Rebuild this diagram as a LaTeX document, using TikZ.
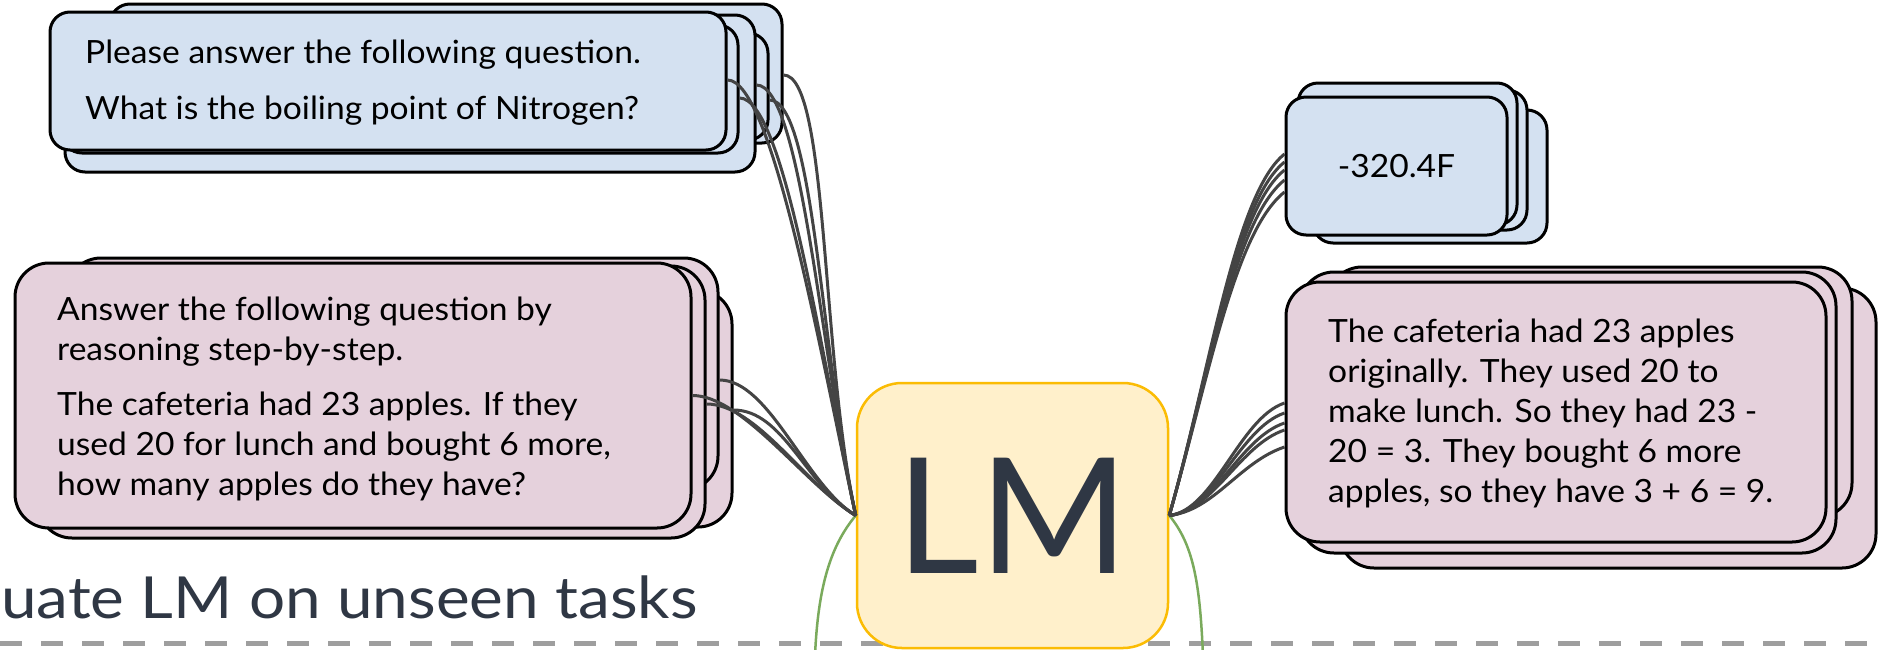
\documentclass[tikz,border=0pt]{standalone}
\usepackage{fontspec}
\setmainfont{Lato}
\newfontfamily\lmfont{Lato}
\newfontfamily\boxfont{Lato}[FakeStretch=1.05]
\newfontfamily\capfont{Lato}[FakeStretch=1.1]
\definecolor{cardblue}{HTML}{D4E1F1}
\definecolor{cardpink}{HTML}{E5D1DC}
\definecolor{lmfill}{HTML}{FFF0CB}
\definecolor{lmyellow}{HTML}{FBBC04}
\definecolor{textdark}{HTML}{2F3744}
\definecolor{conncol}{HTML}{444444}
\definecolor{greencol}{HTML}{7AAA5C}
\definecolor{dashgray}{HTML}{9E9E9E}
\pgfdeclarelayer{background}
\pgfsetlayers{background,main}
\tikzset{
  card/.style={draw=black, line width=3pt, inner sep=0pt},
  bluecard/.style={card, fill=cardblue, rounded corners=20pt},
  pinkcard/.style={card, fill=cardpink, rounded corners=34pt},
  boxtext/.style={inner sep=0pt, align=left, text=black, font=\boxfont\fontsize{32}{40}\selectfont},
  conn/.style={draw=conncol, line width=3pt},
  greenline/.style={draw=greencol, line width=2.5pt},
  dashline/.style={draw=dashgray, line width=5pt, dash pattern=on 22pt off 19pt}
}
\begin{document}
\begin{tikzpicture}[x=1pt,y=-1pt]
\useasboundingbox (0,0) rectangle (1883,649);
\begin{pgfonlayer}{background}
\fill[white] (0,0) rectangle (1883,649);
\coordinate (dl) at (0,643);
\coordinate (dr) at (1883,643);
\draw[dashline] (dl) -- (dr);
\end{pgfonlayer}

% LM node
\node[draw=lmyellow, fill=lmfill, line width=2.5pt, rounded corners=45pt,
      minimum width=311pt, minimum height=265pt, inner sep=0pt, text=textdark,
      font=\lmfont\fontsize{161}{161}\selectfont] (lm) at (1012.5,515.5) {LM};

% green lines
\coordinate (gl) at (815,656);
\coordinate (gr) at (1203,656);
\draw[greenline] (lm.west) .. controls +(-25,30) and +(3,-70) .. (gl);
\draw[greenline] (lm.east) .. controls +(25,30) and +(-3,-70) .. (gr);

% caption
\node[anchor=base west, inner sep=0pt, text=textdark, font=\capfont\fontsize{58}{60}\selectfont] (caption) at (1,618) {uate LM on unseen tasks};

% top-left blue stack
\node[bluecard, minimum width=672pt, minimum height=139pt] (tE) at (446,73.5) {};
\node[bluecard, minimum width=673pt, minimum height=107pt] (tD) at (431.5,86.5) {};
\node[bluecard, minimum width=690pt, minimum height=157pt] (tC) at (410,93.5) {};
\node[bluecard, minimum width=676pt, minimum height=128pt] (tB) at (400,89) {};
\node[bluecard, minimum width=676pt, minimum height=138pt] (tA) at (388,81) {};
\node[boxtext, anchor=north west] (tAtext) at (85,35) {\rule{0pt}{28pt}Please answer the following question.\\[16pt]What is the boiling point of Nitrogen?};

% left pink stack
\node[pinkcard, minimum width=672pt, minimum height=237pt] (pD) at (396,408.5) {};
\node[pinkcard, minimum width=651pt, minimum height=232pt] (pC) at (392.5,374) {};
\node[pinkcard, minimum width=667pt, minimum height=272pt] (pB) at (371.5,402) {};
\node[pinkcard, minimum width=676pt, minimum height=265pt] (pA) at (353,395.5) {};
\node[boxtext, anchor=north west] (pAtext) at (57,292) {\rule{0pt}{28pt}Answer the following question by\\reasoning step-by-step.\\[15pt]The cafeteria had 23 apples. If they\\used 20 for lunch and bought 6 more,\\how many apples do they have?};

% right blue stack
\node[bluecard, minimum width=234pt, minimum height=133pt] (rC) at (1430,176.5) {};
\node[bluecard, minimum width=227pt, minimum height=140pt] (rB) at (1413.5,160) {};
\node[bluecard, minimum width=219pt, minimum height=142pt] (rA) at (1407.5,154) {};
\node[bluecard, minimum width=221pt, minimum height=138pt, boxtext, align=center] (rF) at (1396.5,166) {-320.4F};

% right pink stack
\node[pinkcard, minimum width=536pt, minimum height=280pt] (qD) at (1608,428) {};
\node[pinkcard, minimum width=524pt, minimum height=250pt] (qC) at (1590,392) {};
\node[pinkcard, minimum width=536pt, minimum height=281pt] (qB) at (1568,412.5) {};
\node[pinkcard, minimum width=540pt, minimum height=260pt] (qA) at (1556,412) {};
\node[boxtext, anchor=north west] (qAtext) at (1328,314) {\rule{0pt}{28pt}The cafeteria had 23 apples\\originally. They used 20 to\\make lunch. So they had 23 -\\20 = 3. They bought 6 more\\apples, so they have 3 + 6 = 9.};

% connectors: top-left blue -> LM
\draw[conn] ([yshift=1pt]tA.east) .. controls +(45,0) and +(-35,-160) .. (lm.west);
\draw[conn] ([yshift=-9pt]tB.east) .. controls +(45,0) and +(-35,-160) .. (lm.west);
\draw[conn] ([yshift=8.5pt]tC.east) .. controls +(45,0) and +(-35,-160) .. (lm.west);
\draw[conn] ([yshift=-13.5pt]tD.east) .. controls +(45,0) and +(-35,-160) .. (lm.west);
\draw[conn] ([yshift=-1.5pt]tE.east) .. controls +(45,0) and +(-35,-160) .. (lm.west);

% connectors: left pink -> LM
\draw[conn] (pA.east) .. controls +(50,0) and +(-50,-30) .. (lm.west);
\draw[conn] ([yshift=-2pt]pB.east) .. controls +(50,0) and +(-50,-30) .. (lm.west);
\draw[conn] ([yshift=-6pt]pC.east) .. controls +(50,0) and +(-50,-30) .. (lm.west);
\draw[conn] ([yshift=-1.5pt]pD.east) .. controls +(50,0) and +(-50,-30) .. (lm.west);

% connectors: LM -> right blue
\draw[conn] (lm.east) .. controls +(40,-140) and +(-50,40) .. ([yshift=12pt]rF.west);
\draw[conn] (lm.east) .. controls +(40,-140) and +(-50,40) .. ([yshift=4pt]rF.west);
\draw[conn] (lm.east) .. controls +(40,-140) and +(-50,40) .. ([yshift=-4pt]rF.west);
\draw[conn] (lm.east) .. controls +(40,-140) and +(-50,40) .. ([yshift=-14pt]rF.west);
\draw[conn] (lm.east) .. controls +(40,-140) and +(-50,40) .. ([yshift=-26pt]rF.west);

% connectors: LM -> right pink
\draw[conn] (lm.east) .. controls +(45,-5) and +(-45,15) .. ([yshift=9pt]qA.west);
\draw[conn] (lm.east) .. controls +(45,-5) and +(-45,15) .. ([yshift=-1pt]qA.west);
\draw[conn] (lm.east) .. controls +(45,-5) and +(-45,15) .. ([yshift=-11pt]qA.west);
\draw[conn] (lm.east) .. controls +(45,-5) and +(-45,15) .. ([yshift=-18pt]qA.west);
\draw[conn] (lm.east) .. controls +(45,-5) and +(-45,15) .. ([yshift=-35pt]qA.west);
\end{tikzpicture}
\end{document}
